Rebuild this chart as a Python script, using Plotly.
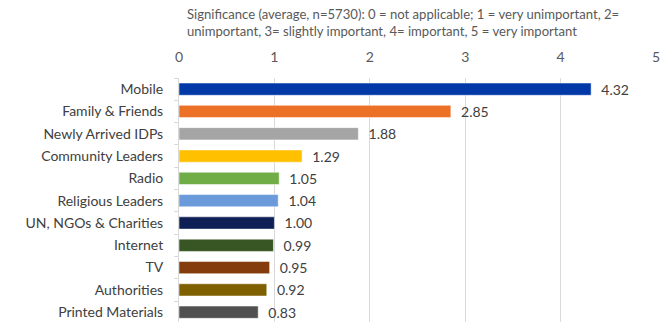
import plotly.graph_objects as go

categories = ["Mobile", "Family & Friends", "Newly Arrived IDPs", "Community Leaders", "Radio",
              "Religious Leaders", "UN, NGOs & Charities", "Internet", "TV", "Authorities",
              "Printed Materials"]
values = [4.32, 2.85, 1.88, 1.29, 1.05, 1.04, 1.00, 0.99, 0.95, 0.92, 0.83]
colors = ["#0038A8", "#ED7027", "#A5A5A5", "#FFC000", "#70AD47", "#6A9AD9",
          "#0D1F55", "#375623", "#843C0C", "#7F6000", "#505050"]
x_ticks = [0, 1, 2, 3, 4, 5]
title_text = ("Significance (average, n=5730): 0 = not applicable; 1 = very unimportant, 2=<br>"
              "unimportant, 3= slightly important, 4= important, 5 = very important")

FONT = "Lato"
fig = go.Figure(go.Bar(
    y=categories, x=values, orientation="h",
    marker=dict(color=colors, line=dict(color="rgba(255,255,255,0.5)", width=1)),
    width=0.55,
    text=values, texttemplate="\u00a0\u00a0%{x:.2f}", textposition="outside",
    textfont=dict(family=FONT, size=14, color="#404040"),
    constraintext="none",
    cliponaxis=False,
))

fig.update_layout(
    width=672, height=322,
    margin=dict(l=179, r=16, t=78, b=0, autoexpand=False),
    plot_bgcolor="white", paper_bgcolor="white",
    showlegend=False,
    font=dict(family=FONT, color="#595959"),
    xaxis=dict(side="top", range=[0, 5], tickvals=x_ticks, showgrid=True,
               gridcolor="#D9D9D9", gridwidth=1, zeroline=False, automargin=False,
               tickfont=dict(size=14, color="#595959"), ticklabelstandoff=12),
    yaxis=dict(range=[10.44, -0.5], showline=True, linecolor="#D9D9D9", linewidth=1,
               ticks="outside", tickson="boundaries", ticklen=4, tickcolor="#D9D9D9",
               tickfont=dict(size=14, color="#404040"), ticklabelstandoff=12,
               showgrid=False, automargin=False),
    annotations=[dict(text=title_text, xref="paper", yref="paper",
                      x=(185 - 179) / 477, y=1 + 74 / 244, xanchor="left", yanchor="top",
                      align="left", showarrow=False,
                      font=dict(family=FONT, size=13.1, color="#595959"))],
)
fig.write_html("out.html", config={"displayModeBar": False},
               post_script="document.body.style.margin='0px';document.body.style.overflow='hidden';")
